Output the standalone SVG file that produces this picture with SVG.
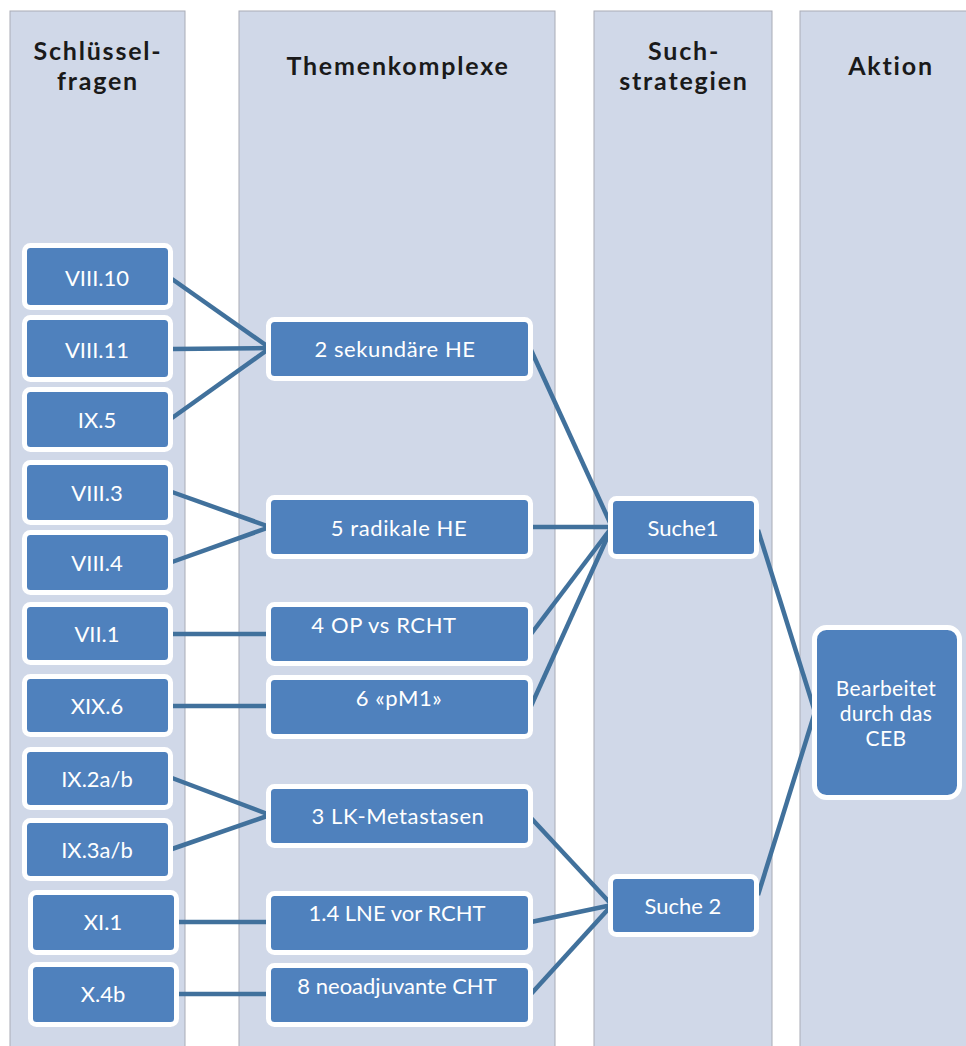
<svg xmlns="http://www.w3.org/2000/svg" width="966" height="1046" viewBox="0 0 966 1046">
<style>
.col{fill:#d0d8e8;stroke:#a9acb6;stroke-width:1}
.hd{font-family:Lato,"Open Sans",sans-serif;font-weight:bold;font-size:25px;letter-spacing:1.8px;fill:#1a1a1a;text-anchor:middle}
.nd rect{fill:#4f81bd;stroke:#ffffff;stroke-width:5}
.nd text{font-family:Lato,"Open Sans",sans-serif;font-size:22px;fill:#ffffff;text-anchor:middle;dominant-baseline:central}
.nd text.wide{letter-spacing:0.6px}
.nd text.sm{font-size:21px;letter-spacing:0.4px}
.cn line{stroke:#41719c;stroke-width:4.5;stroke-linecap:butt}
</style>
<rect x="0" y="0" width="966" height="1046" fill="#ffffff"/>
<g id="columns">
<rect class="col" x="10" y="11" width="175" height="1040"/>
<rect class="col" x="239" y="11" width="316" height="1040"/>
<rect class="col" x="594" y="11" width="178" height="1040"/>
<rect class="col" x="800" y="11" width="170" height="1040"/>
<text class="hd" x="98" y="60">Schlüssel-</text>
<text class="hd" x="98" y="90">fragen</text>
<text class="hd" x="398" y="75">Themenkomplexe</text>
<text class="hd" x="684" y="60">Such-</text>
<text class="hd" x="684" y="90">strategien</text>
<text class="hd" x="891" y="75">Aktion</text>
</g>
<g id="connectors" class="cn">
<line x1="172" y1="279" x2="270" y2="348"/>
<line x1="172" y1="349" x2="270" y2="348"/>
<line x1="172" y1="418" x2="270" y2="348"/>
<line x1="172" y1="492" x2="270" y2="527"/>
<line x1="172" y1="562" x2="270" y2="527"/>
<line x1="172" y1="634" x2="270" y2="634"/>
<line x1="172" y1="706" x2="270" y2="706"/>
<line x1="172" y1="778" x2="270" y2="815"/>
<line x1="172" y1="849" x2="270" y2="815"/>
<line x1="177" y1="922" x2="270" y2="922"/>
<line x1="177" y1="994" x2="270" y2="994"/>
<line x1="531" y1="350" x2="612" y2="527"/>
<line x1="531" y1="527" x2="612" y2="527"/>
<line x1="531" y1="634" x2="612" y2="527"/>
<line x1="531" y1="706" x2="612" y2="527"/>
<line x1="531" y1="818" x2="612" y2="905"/>
<line x1="531" y1="922" x2="612" y2="905"/>
<line x1="531" y1="994" x2="612" y2="905"/>
<line x1="758" y1="530" x2="815" y2="712"/>
<line x1="758" y1="895" x2="815" y2="712"/>
</g>
<g id="n-viii10" class="nd"><rect x="24.5" y="245.5" width="146" height="62" rx="6"/><text x="97" y="277">VIII.10</text></g>
<g id="n-viii11" class="nd"><rect x="24.5" y="317.5" width="146" height="62" rx="6"/><text x="97" y="349">VIII.11</text></g>
<g id="n-ix5" class="nd"><rect x="24.5" y="389.5" width="146" height="60" rx="6"/><text x="97" y="419">IX.5</text></g>
<g id="n-viii3" class="nd"><rect x="24.5" y="462.5" width="146" height="60" rx="6"/><text x="97" y="492">VIII.3</text></g>
<g id="n-viii4" class="nd"><rect x="24.5" y="532.5" width="146" height="60" rx="6"/><text x="97" y="562">VIII.4</text></g>
<g id="n-vii1" class="nd"><rect x="24.5" y="604.5" width="146" height="58" rx="6"/><text x="97" y="633">VII.1</text></g>
<g id="n-xix6" class="nd"><rect x="24.5" y="676.5" width="146" height="58" rx="6"/><text x="97" y="705">XIX.6</text></g>
<g id="n-ix2" class="nd"><rect x="24.5" y="749.5" width="146" height="58" rx="6"/><text x="97" y="778">IX.2a/b</text></g>
<g id="n-ix3" class="nd"><rect x="24.5" y="820.5" width="146" height="58" rx="6"/><text x="97" y="849">IX.3a/b</text></g>
<g id="n-xi1" class="nd"><rect x="30.5" y="892.5" width="146" height="60" rx="6"/><text x="103" y="921">XI.1</text></g>
<g id="n-x4b" class="nd"><rect x="30.5" y="964.5" width="146" height="60" rx="6"/><text x="103" y="993">X.4b</text></g>
<g id="n-t2" class="nd"><rect x="268.5" y="319.5" width="262" height="59" rx="6"/><text class="wide" x="395" y="348">2 sekundäre HE</text></g>
<g id="n-t5" class="nd"><rect x="268.5" y="497.5" width="262" height="59" rx="6"/><text class="wide" x="399" y="527">5 radikale HE</text></g>
<g id="n-t4" class="nd"><rect x="268.5" y="604.5" width="262" height="59" rx="6"/><text class="wide" x="384" y="624">4 OP vs RCHT</text></g>
<g id="n-t6" class="nd"><rect x="268.5" y="677.5" width="262" height="59" rx="6"/><text class="wide" x="399" y="697">6 «pM1»</text></g>
<g id="n-t3" class="nd"><rect x="268.5" y="786.5" width="262" height="59" rx="6"/><text class="wide" x="398" y="815">3 LK-Metastasen</text></g>
<g id="n-t14" class="nd"><rect x="268.5" y="893.5" width="262" height="59" rx="6"/><text x="397" y="912">1.4 LNE vor RCHT</text></g>
<g id="n-t8" class="nd"><rect x="268.5" y="965.5" width="262" height="59" rx="6"/><text x="397" y="985">8 neoadjuvante CHT</text></g>
<g id="n-s1" class="nd"><rect x="610.5" y="498.5" width="146" height="58" rx="6"/><text x="683" y="527">Suche1</text></g>
<g id="n-s2" class="nd"><rect x="610.5" y="876.5" width="146" height="58" rx="6"/><text x="683" y="905">Suche 2</text></g>
<g id="n-ceb" class="nd"><rect x="814.5" y="627.5" width="145" height="170" rx="12"/><text class="sm" x="886" y="687">Bearbeitet</text><text class="sm" x="886" y="712">durch das</text><text class="sm" x="886" y="737">CEB</text></g>
</svg>
